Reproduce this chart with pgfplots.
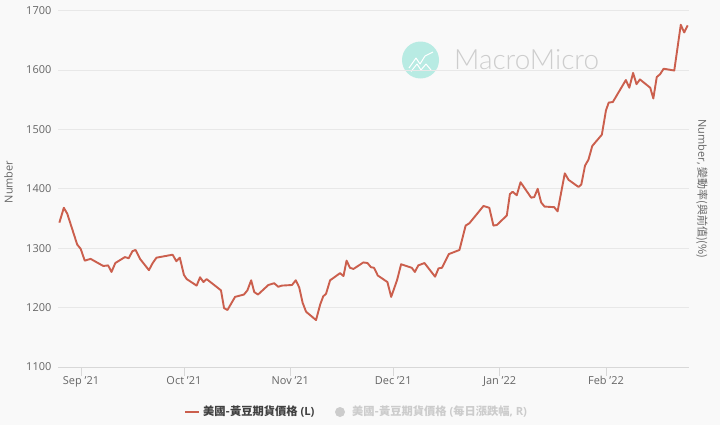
\documentclass[border=0pt]{standalone}
\usepackage{pgfplots}
\pgfplotsset{compat=1.18}
\usepackage{fontspec}
\setmainfont{Open Sans}
\newfontfamily\cjk{Noto Sans CJK TC}
\newfontfamily\logofont{Lato Light}
\definecolor{pagebg}{HTML}{F9F9F9}
\definecolor{gridc}{HTML}{E8E8E8}
\definecolor{axisc}{HTML}{D8D8D8}
\definecolor{tickc}{HTML}{666666}
\definecolor{linec}{HTML}{CB5F4D}
\definecolor{logoc}{HTML}{B8EBE3}
\definecolor{logot}{HTML}{CDCDCD}
\pgfplotstableread{
d v
-6.3 1343
-5.0 1368
-4.0 1358
-1.1 1306
-0.1 1299
1.1 1279
2.8 1282
6.5 1270
7.9 1271
8.9 1260
10.0 1275
12.8 1285
13.9 1283
15.0 1295
15.9 1297
17.2 1282
19.8 1263
20.9 1275
22.0 1284
26.7 1289
27.8 1278
28.8 1284
30.0 1255
30.8 1248
33.7 1237
34.7 1251
35.7 1243
36.6 1248
38.6 1239
40.8 1229
41.7 1199
42.7 1196
44.9 1218
47.5 1222
48.5 1229
49.6 1246
50.5 1226
51.6 1222
54.6 1238
56.3 1241
57.5 1235
58.5 1237
61.5 1238
62.6 1246
63.6 1234
64.6 1208
65.6 1193
68.5 1179
69.7 1205
70.6 1219
71.4 1223
72.6 1246
73.6 1250
75.5 1258
76.5 1253
77.4 1279
78.4 1267
79.4 1265
82.3 1276
83.5 1275
84.5 1268
85.4 1267
86.5 1254
89.3 1243
90.4 1218
92.1 1246
93.3 1273
96.4 1267
97.3 1260
98.3 1271
100.1 1275
103.2 1252
104.2 1266
105.2 1267
107.2 1290
110.3 1297
112.1 1338
113.2 1342
117.3 1371
119.0 1368
120.2 1338
121.2 1339
124.1 1355
125.0 1391
125.8 1395
127.0 1389
128.1 1411
131.2 1385
132.1 1386
133.1 1400
134.1 1377
135.1 1370
137.9 1369
138.9 1362
141.0 1426
142.1 1415
145.0 1403
145.8 1407
146.9 1439
147.9 1449
149.0 1472
151.8 1491
153.0 1532
153.8 1545
155.0 1546
158.8 1583
159.8 1570
160.9 1595
161.9 1576
162.9 1584
165.9 1570
166.8 1552
167.8 1588
168.8 1593
169.8 1602
172.9 1599
174.8 1676
175.8 1663
176.8 1675
}\soy
\begin{document}
\begin{tikzpicture}[x=1bp,y=1bp]
\path[use as bounding box,fill=pagebg] (0,0) rectangle (720,425);
% watermark
\fill[logoc] (420.5,365) circle (18.5);
\draw[white,line width=1bp,line join=round] (409,357) -- (416,367) -- (420,361) -- (425,369) -- (433,373);
\draw[white,line width=1bp,line join=round] (411,353.5) -- (417,361) -- (421,355) -- (426,361) -- (431,355);
\node[anchor=west,inner sep=0pt,text=logot,font=\logofont\fontsize{28}{28}\selectfont] at (454,365) {MacroMicro};
\begin{axis}[
  at={(58bp,58bp)},anchor=south west,scale only axis,
  width=631bp,height=356.5bp,
  xmin=-6.7,xmax=177.2,ymin=1100,ymax=1700,
  axis x line=bottom,axis y line=left,
  x axis line style={draw=axisc,line width=0.8bp,-},
  y axis line style={draw=none},
  xtick={0,30,61,91,122,153},
  xticklabels={Sep '21,Oct '21,Nov '21,Dec '21,Jan '22,Feb '22},
  ytick={1100,1200,1300,1400,1500,1600,1700},
  ymajorgrids,
  grid style={gridc,line width=0.8bp},
  x tick style={draw=axisc,line width=0.8bp},
  y tick style={draw=none},
  xtick align=outside,
  major tick length=9bp,
  tick label style={text=tickc,font=\fontsize{11}{11}\selectfont},
  /pgf/number format/assume math mode=true,
  /pgf/number format/set thousands separator={},
  x tick label style={yshift=3bp},
  y tick label style={xshift=-2bp,inner sep=0pt,anchor=east},
  clip=false,
]
\addplot[linec,line width=1.9bp,line join=round,no markers] table[x=d,y=v] {\soy};
\end{axis}
\node[rotate=90,inner sep=0pt,text=tickc,font=\fontsize{11}{11}\selectfont] at (8.5,243) {Number};
\node[rotate=-90,inner sep=0pt,text=tickc,font=\fontsize{11}{11}\selectfont] at (702,236) {Number, {\cjk 變動率(與前值)(\%)}};
% legend
\draw[linec,line width=1.9bp] (185,13) -- (199,13);
\node[anchor=west,inner sep=0pt,text=black!75,font=\fontsize{11.3}{11.3}\selectfont\bfseries] at (203,13) {{\cjk 美國-黃豆期貨價格} (L)};
\fill[black!20] (340,13) circle (5);
\node[anchor=west,inner sep=0pt,text=black!20,font=\fontsize{11.3}{11.3}\selectfont\bfseries] at (352,13) {{\cjk 美國-黃豆期貨價格} ({\cjk 每日漲跌幅}, R)};
\end{tikzpicture}
\end{document}
